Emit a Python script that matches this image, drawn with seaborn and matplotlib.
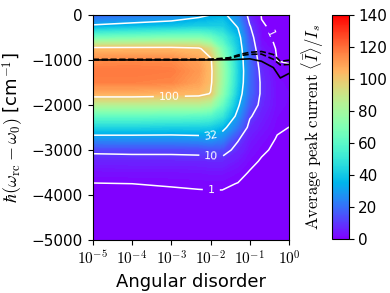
import numpy as np
import matplotlib
matplotlib.use("Agg")
import matplotlib.pyplot as plt
from matplotlib.colors import Normalize
from matplotlib.cm import ScalarMappable
import seaborn as sns

# ---------------- data ----------------
angular_disorder = [1e-5, 1e-4, 1e-3, 5e-3, 1e-2, 2e-2, 5e-2, 1e-1, 2e-1, 5e-1, 1.0]
detuning = [0, -250, -500, -750, -1000, -1250, -1500, -1750, -2000, -2250,
            -2500, -2750, -3000, -3250, -3500, -3750, -4000, -4500, -5000]

# average peak current (one column per angular-disorder value, rows follow `detuning`)
cur_1e_5 = [17, 34, 66, 104, 113, 118, 116, 106, 85, 62, 43, 27, 12, 6, 2.5, 0.9, 0.4, 0.1, 0.05]
cur_1e_4 = [20, 37, 68, 104, 114, 118, 116, 106, 85, 62, 43, 27, 12.5, 6.2, 2.7, 1.0, 0.45, 0.1, 0.05]
cur_1e_3 = [24, 39, 70, 104, 114, 117, 115, 105, 84, 61, 42, 27, 12.5, 6.3, 2.8, 1.2, 0.5, 0.1, 0.05]
cur_5e_3 = [29, 42, 70, 102, 109, 111, 109, 104, 84, 60, 42, 28, 13, 6.5, 3, 1.4, 0.6, 0.1, 0.05]
cur_1e_2 = [32, 42, 65, 92, 102, 103, 102.5, 99.5, 80, 58, 41, 29, 14, 7, 3.3, 1.5, 0.6, 0.1, 0.05]
cur_2e_2 = [35, 42, 55, 68, 76, 79, 78, 74, 63, 50, 36, 25, 14, 7, 3.3, 1.5, 0.6, 0.1, 0.05]
cur_5e_2 = [24, 31, 37, 40, 42, 43, 42, 39, 34, 28, 21, 11, 7, 4, 2, 0.9, 0.4, 0.1, 0.05]
cur_1e_1 = [6, 10.5, 14, 17, 19, 20, 20, 19, 16, 11, 7, 4.5, 3, 1.8, 0.8, 0.3, 0.1, 0.05, 0.02]
cur_2e_1 = [0.8, 1.3, 1.9, 3.5, 5.5, 7.5, 8.5, 8.6, 7.5, 5.5, 4, 2.5, 1.5, 0.7, 0.3, 0.1, 0.05, 0.02, 0.01]
cur_5e_1 = [0.2, 0.3, 0.5, 0.7, 0.95, 1.6, 2.2, 2.5, 2.4, 2, 1.4, 0.8, 0.4, 0.2, 0.1, 0.05, 0.02, 0.01, 0.01]
cur_1e_0 = [0.1, 0.2, 0.3, 0.5, 0.8, 1.4, 1.8, 2, 1.8, 1.4, 0.98, 0.6, 0.3, 0.15, 0.1, 0.05, 0.02, 0.01, 0.01]

contour_levels = [1, 10, 32, 100]
contour_labels = ["1", "10", "32", "100"]

# resonance lines (black)
line_disorder = [1e-5, 1e-4, 1e-3, 1e-2, 3e-2, 6e-2, 1e-1, 2e-1, 4e-1, 6e-1, 1.0]
line_solid = [-1000, -1000, -1000, -1000, -995, -985, -975, -1030, -1170, -1400, -1300]
line_dash_upper = [-990, -990, -990, -985, -950, -870, -830, -812, -880, -1030, -1005]
line_dash_lower = [-992, -992, -992, -990, -965, -900, -875, -870, -985, -1110, -1100]

xtick_exponents = [-5, -4, -3, -2, -1, 0]
ytick_values = [-5000, -4000, -3000, -2000, -1000, 0]
cbar_ticks = [0, 20, 40, 60, 80, 100, 120, 140]

# ---------------- figure ----------------
sns.set_style("ticks", {"text.color": "black", "axes.labelcolor": "black",
                        "xtick.color": "black", "ytick.color": "black",
                        "axes.edgecolor": "black"})
plt.rcParams["font.family"] = ["DejaVu Sans"]
plt.rcParams["mathtext.fontset"] = "cm"

fig = plt.figure(figsize=(3.9, 2.93), dpi=100)
ax = fig.add_axes([0.238, 0.181, 0.503, 0.768])
cax = fig.add_axes([0.851, 0.184, 0.0426, 0.765])

logx = np.log10(angular_disorder)
Z = np.column_stack([cur_1e_5, cur_1e_4, cur_1e_3, cur_5e_3, cur_1e_2, cur_2e_2,
                     cur_5e_2, cur_1e_1, cur_2e_1, cur_5e_1, cur_1e_0])

cmap = sns.color_palette("rainbow", as_cmap=True)
norm = Normalize(vmin=0, vmax=140)
ax.contourf(logx, detuning, Z, levels=np.linspace(0, 140, 141), cmap=cmap, norm=norm)
cs = ax.contour(logx, detuning, Z, levels=contour_levels, colors="white", linewidths=1.1)
ax.clabel(cs, fmt=dict(zip(contour_levels, contour_labels)), fontsize=8, inline=True,
          manual=[(-3.05, -1820), (-1.98, -2700), (-1.98, -3130), (-1.98, -3880), (-0.55, -450)])

lx = np.log10(line_disorder)
sns.lineplot(x=lx, y=line_solid, color="k", lw=1.2, ax=ax, estimator=None, sort=False)
sns.lineplot(x=lx, y=line_dash_upper, color="k", lw=1.2, ls="--", ax=ax, estimator=None, sort=False)
sns.lineplot(x=lx, y=line_dash_lower, color="k", lw=1.2, ls="--", ax=ax, estimator=None, sort=False)

ax.set_xlim(-5, 0)
ax.set_ylim(-5000, 0)
ax.set_xticks(xtick_exponents)
ax.set_xticklabels([r"$10^{%d}$" % e for e in xtick_exponents])
ax.set_yticks(ytick_values)
ax.tick_params(labelsize=11)
ax.set_xlabel("Angular disorder", fontsize=13)
ax.set_ylabel(r"$\hbar(\omega_{\rm rc}-\omega_0)$ [cm$^{-1}$]", fontsize=13)

cb = fig.colorbar(ScalarMappable(norm=norm, cmap=cmap), cax=cax)
cb.set_ticks(cbar_ticks)
cb.ax.tick_params(labelsize=11)
cb.ax.yaxis.set_label_position("left")
cb.set_label(r"$\mathrm{Average\ peak\ current}\ \langle\bar{I}\rangle/I_s$", fontsize=12, labelpad=4)

fig.savefig("out.png", dpi=100)
